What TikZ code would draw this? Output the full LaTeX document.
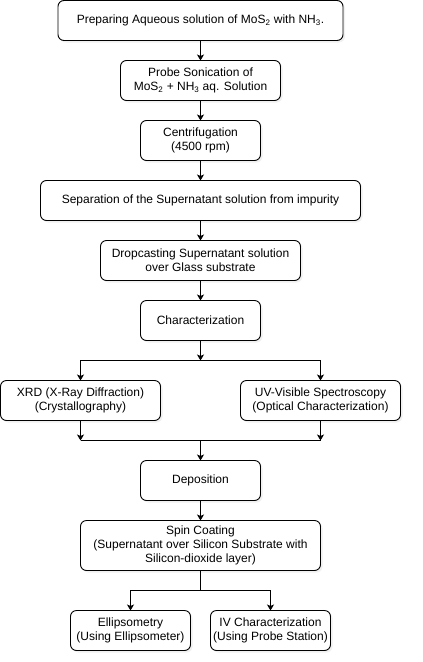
\documentclass[tikz,border=0pt]{standalone}
\usepackage{fontspec}
\setmainfont{Liberation Sans}
\usetikzlibrary{positioning,arrows.meta,shadows}

\begin{document}
\begin{tikzpicture}[
    stage/.style={draw,rounded corners=6pt,fill=white,line width=0.9pt,
      align=center,inner sep=2pt,outer sep=0pt,minimum height=40pt,
      font=\fontsize{12pt}{14pt}\selectfont,
      drop shadow={opacity=0.12,shadow xshift=2pt,shadow yshift=-2pt}},
    flow/.style={line width=0.9pt,-{Stealth[length=6pt,width=7pt,inset=1.5pt]}},
    node distance=20pt
  ]
  \useasboundingbox (0pt,0pt) rectangle (423pt,-662pt);
  \node[stage,minimum width=285pt] (prep) at (200.5pt,-20.5pt)
    {Preparing Aqueous solution of MoS\textsubscript{2} with NH\textsubscript{3}.};
  \node[stage,minimum width=160pt,below=of prep] (sonic)
    {Probe Sonication of\\MoS\textsubscript{2} + NH\textsubscript{3} aq. Solution};
  \node[stage,minimum width=120pt,below=of sonic] (centri) {Centrifugation\\(4500 rpm)};
  \node[stage,minimum width=320pt,below=of centri] (separ)
    {Separation of the Supernatant solution from impurity};
  \node[stage,minimum width=200pt,below=of separ] (drop)
    {Dropcasting Supernatant solution\\over Glass substrate};
  \node[stage,minimum width=120pt,below=of drop] (charac) {Characterization};
  \node[stage,minimum width=160pt,below=40pt of charac,xshift=-120pt] (xrd)
    {XRD (X-Ray Diffraction)\\(Crystallography)};
  \node[stage,minimum width=160pt,below=40pt of charac,xshift=120pt] (uvvis)
    {UV-Visible Spectroscopy\\(Optical Characterization)};
  \node[stage,minimum width=120pt,below=120pt of charac] (depo) {Deposition};
  \node[stage,minimum width=240pt,minimum height=50pt,below=of depo] (spin)
    {Spin Coating\\(Supernatant over Silicon Substrate with\\Silicon-dioxide layer)};
  \node[stage,minimum width=120pt,below=40pt of spin,xshift=-70pt] (ellip)
    {Ellipsometry\\(Using Ellipsometer)};
  \node[stage,minimum width=120pt,below=40pt of spin,xshift=70pt] (ivchar)
    {IV Characterization\\(Using Probe Station)};
  % branching and joining points
  \coordinate[below=of charac] (fork);
  \coordinate[below=of xrd] (joinl);
  \coordinate[below=of uvvis] (joinr);
  \coordinate[above=of depo] (join);
  \coordinate[below=of spin] (branch);
  \draw[flow] (prep) -- (sonic);
  \draw[flow] (sonic) -- (centri);
  \draw[flow] (centri) -- (separ);
  \draw[flow] (separ) -- (drop);
  \draw[flow] (drop) -- (charac);
  \draw[flow] (charac) -- (fork);
  \draw[flow] (fork) -| (xrd);
  \draw[flow] (fork) -| (uvvis);
  \draw[flow] (xrd) -- (joinl);
  \draw[flow] (uvvis) -- (joinr);
  \draw[line width=0.9pt] (joinl) -- (joinr);
  \draw[flow] (join) -- (depo);
  \draw[flow] (depo) -- (spin);
  \draw[line width=0.9pt] (spin) -- (branch);
  \draw[flow] (branch) -| (ellip);
  \draw[flow] (branch) -| (ivchar);
\end{tikzpicture}
\end{document}
